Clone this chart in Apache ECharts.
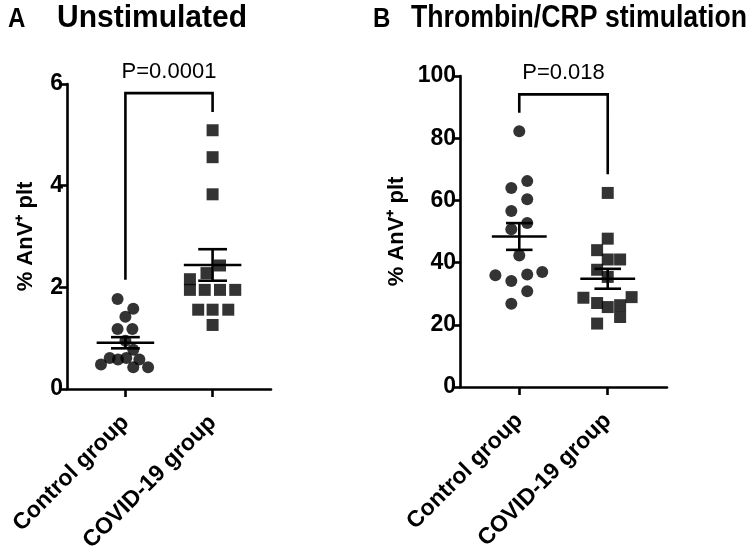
<!DOCTYPE html>
<html><head><meta charset="utf-8">
<script src="https://cdn.jsdelivr.net/npm/echarts@6/dist/echarts.min.js"></script>
<style>html,body{margin:0;padding:0;background:#fff}#c{width:751px;height:548px}</style>
</head><body><div id="c"></div>
<script>
// ---- data ----
const groupLabels = ['Control group', 'COVID-19 group'];
const groupPos = [1, 2];

// Panel A: Unstimulated (% AnV+ plt)
const ctrlA = [1.77, 1.58, 1.42, 1.18, 1.18, 0.95, 0.77, 0.61, 0.58, 0.61, 0.58, 0.48, 0.43, 0.43];
const ctrlAJitter = [-0.09, 0.09, 0, -0.09, 0.08, 0, 0.09, -0.18, -0.085, 0.01, 0.16, -0.28, 0.09, 0.26];
const covA = [5.09, 4.56, 3.83, 2.43, 2.28, 2.16, 1.95, 1.95, 1.95, 1.95, 1.56, 1.56, 1.56, 1.26];
const covAJitter = [0, 0, 0, 0.085, -0.07, -0.26, -0.26, -0.09, 0.085, 0.26, -0.165, 0, 0.18, 0];
const meanA = [0.91, 2.44];
const semA = [0.11, 0.31];
const bracketA = [2.15, 5.82, 5.45]; // left end, top, right end
const pA = 'P=0.0001';
const yTicksA = [0, 2, 4, 6];

// Panel B: Thrombin/CRP stimulation
const ctrlB = [82.2, 66.2, 64.0, 60.4, 56.6, 52.7, 50.7, 42.3, 35.9, 34.1, 36.2, 37.0, 30.8, 26.8];
const ctrlBJitter = [0, 0.09, -0.09, 0.09, -0.09, 0.09, -0.09, 0, -0.27, -0.09, 0.09, 0.26, 0.09, -0.09];
const covB = [62.4, 47.7, 44.0, 41.0, 41.0, 37.7, 35.4, 28.7, 27.0, 25.7, 26.3, 28.9, 22.5, 20.4];
const covBJitter = [0, 0, -0.12, 0, 0.14, -0.12, 0, -0.275, -0.12, 0, 0.14, 0.27, 0.14, -0.12];
const meanB = [48.4, 34.8];
const semB = [4.3, 3.2];
const bracketB = [88.2, 94.1, 68.4];
const pB = 'P=0.018';
const yTicksB = [0, 20, 40, 60, 80, 100];

const titleA = 'Unstimulated';
const titleB = 'Thrombin/CRP stimulation';
const yName = '% AnV\u207A plt';

// ---- chart ----
const FONT = 'Liberation Sans, Arial, sans-serif';
const LW = 2.6;
function pts(vals, jit, x) { return vals.map((v, i) => [x + jit[i], v]); }

// condensed bold title text: measure natural width, squeeze horizontally to target width
const mctx = document.createElement('canvas').getContext('2d');
function condText(text, x, y, size, targetW) {
  const font = 'bold ' + size + 'px ' + FONT;
  mctx.font = font;
  const w = mctx.measureText(text).width;
  const sx = targetW ? Math.min(1, targetW / w) : 0.86;
  return { type: 'text', x: x, y: y, scaleX: sx, style: { text: text, font: font, fill: '#000', textVerticalAlign: 'top' } };
}

function xAxis(gi) {
  return {
    type: 'value', gridIndex: gi, min: 0.33, max: 2.67,
    axisLine: { show: true, lineStyle: { color: '#000', width: LW } },
    axisTick: { show: true, length: 8, lineStyle: { color: '#000', width: LW }, customValues: groupPos },
    axisLabel: {
      customValues: groupPos, rotate: 45, margin: 30,
      color: '#000', fontFamily: FONT, fontWeight: 'bold', fontSize: 23,
      formatter: v => groupLabels[groupPos.indexOf(v)] || ''
    },
    splitLine: { show: false }
  };
}
function yAxis(gi, max, interval, gap) {
  return {
    type: 'value', gridIndex: gi, min: 0, max: max, interval: interval,
    name: yName, nameLocation: 'middle', nameRotate: 90, nameGap: gap,
    nameTextStyle: { color: '#000', fontFamily: FONT, fontWeight: 'bold', fontSize: 22 },
    axisLine: { show: true, lineStyle: { color: '#000', width: LW } },
    axisTick: { show: true, length: 8, lineStyle: { color: '#000', width: LW } },
    axisLabel: { color: '#000', fontFamily: FONT, fontWeight: 'bold', fontSize: 23, margin: 4 },
    splitLine: { show: false }
  };
}
function meanSeries(gi, means, sems, halfW, capW) {
  return {
    type: 'custom', xAxisIndex: gi, yAxisIndex: gi, z: 10,
    data: means.map((m, i) => [groupPos[i], m, sems[i]]),
    renderItem: function (params, api) {
      const x = api.value(0), m = api.value(1), s = api.value(2);
      const st = { stroke: '#000', lineWidth: LW, fill: null };
      const seg = (a, b) => ({ type: 'line', shape: { x1: a[0], y1: a[1], x2: b[0], y2: b[1] }, style: st });
      return { type: 'group', children: [
        seg(api.coord([x - halfW, m]), api.coord([x + halfW, m])),
        seg(api.coord([x, m - s]), api.coord([x, m + s])),
        seg(api.coord([x - capW, m + s]), api.coord([x + capW, m + s])),
        seg(api.coord([x - capW, m - s]), api.coord([x + capW, m - s]))
      ]};
    }
  };
}
function bracketSeries(gi, br, label) {
  return {
    type: 'custom', xAxisIndex: gi, yAxisIndex: gi, z: 10, clip: false,
    data: [[br[0], br[1], br[2]]],
    renderItem: function (params, api) {
      const l = api.value(0), t = api.value(1), r = api.value(2);
      const p1 = api.coord([groupPos[0], l]), p2 = api.coord([groupPos[0], t]);
      const p3 = api.coord([groupPos[1], t]), p4 = api.coord([groupPos[1], r]);
      const mid = api.coord([(groupPos[0] + groupPos[1]) / 2, t]);
      return { type: 'group', children: [
        { type: 'polyline', shape: { points: [p1, p2, p3, p4] }, style: { stroke: '#000', lineWidth: LW, fill: null } },
        { type: 'text', x: mid[0], y: mid[1] - 10, style: { text: label, fill: '#000', font: '22px ' + FONT, textAlign: 'center', textVerticalAlign: 'bottom' } }
      ]};
    }
  };
}
function scatter(gi, data, sym) {
  return { type: 'scatter', xAxisIndex: gi, yAxisIndex: gi, symbol: sym, symbolSize: 12,
    itemStyle: { color: '#000' }, data: data, z: 3, silent: true };
}

const chart = echarts.init(document.getElementById('c'), null, { renderer: 'canvas' });
chart.setOption({
  animation: false,
  backgroundColor: '#fff',
  graphic: [
    condText('A', 8, 5, 28, null),
    condText(titleA, 57, 3, 31, 190),
    condText('B', 373, 5, 28, null),
    condText(titleB, 411, 3, 31, 336)
  ],
  grid: [
    { left: 67, top: 84, width: 204, height: 305, containLabel: false, outerBoundsMode: 'none' },
    { left: 460, top: 76, width: 207, height: 311, containLabel: false, outerBoundsMode: 'none' }
  ],
  xAxis: [xAxis(0), xAxis(1)],
  yAxis: [yAxis(0, yTicksA[yTicksA.length - 1], yTicksA[1] - yTicksA[0], 30), yAxis(1, yTicksB[yTicksB.length - 1], yTicksB[1] - yTicksB[0], 52)],
  series: [
    scatter(0, pts(ctrlA, ctrlAJitter, groupPos[0]), 'circle'),
    scatter(0, pts(covA, covAJitter, groupPos[1]), 'rect'),
    meanSeries(0, meanA, semA, 0.33, 0.165),
    bracketSeries(0, bracketA, pA),
    scatter(1, pts(ctrlB, ctrlBJitter, groupPos[0]), 'circle'),
    scatter(1, pts(covB, covBJitter, groupPos[1]), 'rect'),
    meanSeries(1, meanB, semB, 0.31, 0.15),
    bracketSeries(1, bracketB, pB)
  ]
});
</script></body></html>
